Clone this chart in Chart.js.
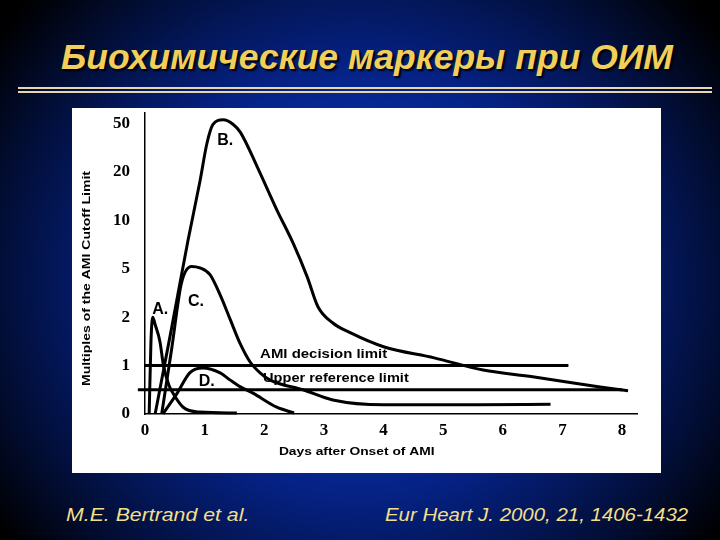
<!DOCTYPE html>
<html>
<head>
<meta charset="utf-8">
<script src="https://cdn.jsdelivr.net/npm/chart.js@4.4.1/dist/chart.umd.min.js"></script>
<style>
  html, body { margin: 0; padding: 0; }
  body {
    width: 720px; height: 540px; overflow: hidden; position: relative;
    background: radial-gradient(ellipse 62% 78% at 50% 52%, #0b36bc 0%, #0830a6 30%, #052182 52%, #02103f 78%, #000000 100%);
    font-family: "Liberation Sans", Arial, sans-serif;
  }
  #title {
    position: absolute; left: 0; width: 734px; top: 37px;
    text-align: center; font-size: 35.5px; font-weight: bold; font-style: italic;
    color: #f2cf5a; text-shadow: 2px 2px 2px #000;
  }
  .rule { position: absolute; left: 18px; width: 694px; height: 1.5px; background: #e8d6ae; }
  #panel { position: absolute; left: 72px; top: 108px; width: 589px; height: 365px; background: #fff; }
  .foot { position: absolute; top: 504px; font-size: 19px; font-style: italic; color: #f1df8c; transform-origin: left top; }
</style>
</head>
<body>
<div id="title">Биохимические маркеры при ОИМ</div>
<div class="rule" style="top:87px"></div>
<div class="rule" style="top:91px"></div>
<div id="panel"><canvas id="chart" width="589" height="365"></canvas></div>
<div class="foot" style="left:66px; transform: scaleX(1.12)">M.E. Bertrand et al.</div>
<div class="foot" style="left:385px; transform: scaleX(1.075)">Eur Heart J. 2000, 21, 1406-1432</div>

<script>
// tick labels
const xTicks = [0, 1, 2, 3, 4, 5, 6, 7, 8];
const yTicks = [0, 1, 2, 5, 10, 20, 50];

// curves: days after onset / multiples of cutoff
const aDays = [0.07, 0.10, 0.13, 0.17, 0.25, 0.31, 0.40, 0.47, 0.64, 0.92, 1.54];
const aVals = [0, 1.5, 2.0, 1.85, 1.5, 1.0, 0.6, 0.43, 0.14, 0.04, 0.02];

const bDays = [0.17, 0.45, 0.72, 0.92, 1.04, 1.14, 1.31, 1.48, 1.60, 1.88, 2.21, 2.48, 2.72, 2.90, 3.15, 3.44, 4.00, 4.85, 5.67, 6.50, 7.63, 8.10];
const bVals = [0, 1.8, 7.9, 18, 38, 49.5, 52.4, 49.5, 44.6, 23.4, 12.2, 7.7, 4.5, 2.65, 1.88, 1.68, 1.39, 1.16, 0.91, 0.77, 0.56, 0.48];

const cDays = [0.28, 0.45, 0.61, 0.78, 0.92, 1.09, 1.26, 1.43, 1.59, 1.76, 1.93, 2.10, 2.65, 3.15, 4.00, 5.57, 6.80];
const cVals = [0, 1.37, 4.1, 5.25, 5.1, 4.64, 3.38, 1.95, 1.47, 1.08, 0.85, 0.7, 0.5, 0.29, 0.19, 0.19, 0.2];

const dDays = [0.30, 0.54, 0.75, 0.97, 1.26, 1.43, 1.60, 1.81, 2.21, 2.50];
const dVals = [0, 0.43, 0.85, 0.95, 0.85, 0.7, 0.56, 0.43, 0.14, 0.02];

// reference limits
const decisionLimit = 1;
const decisionDays = [0, 7.1];
const upperRefLimit = 0.5;
const upperRefDays = [-0.12, 8.0];

// y axis: equal spacing between the tick values
const yTop = 6.22;
function toStep(v) {
  for (let i = 1; i < yTicks.length; i++) {
    if (v <= yTicks[i]) return i - 1 + (v - yTicks[i - 1]) / (yTicks[i] - yTicks[i - 1]);
  }
  const n = yTicks.length - 1;
  return n + (v - yTicks[n]) / (yTicks[n] - yTicks[n - 1]);
}
function fromStep(s) {
  const n = yTicks.length - 1;
  const i = Math.max(0, Math.min(n - 1, Math.floor(s)));
  return yTicks[i] + (s - i) * (yTicks[i + 1] - yTicks[i]);
}

class MarkerScale extends Chart.LinearScale {
  static id = 'marker';
  static defaults = {};
  determineDataLimits() { this.min = 0; this.max = fromStep(yTop); }
  buildTicks() { return yTicks.map(v => ({ value: v })); }
  getPixelForValue(v) { return this.getPixelForDecimal(toStep(v) / yTop); }
  getValueForPixel(p) { return fromStep(this.getDecimalForPixel(p) * yTop); }
}
Chart.register(MarkerScale);

const pts = (xs, ys) => xs.map((x, i) => ({ x: x, y: ys[i] }));
const curve = (xs, ys) => ({
  data: pts(xs, ys), borderColor: '#000', borderWidth: 3, pointRadius: 0,
  cubicInterpolationMode: 'monotone', clip: false
});
const flat = (xs, v) => ({
  data: xs.map(x => ({ x: x, y: v })), borderColor: '#000', borderWidth: 3,
  pointRadius: 0, clip: false
});

// text drawn on the plot, anchored in data units
const notes = [
  { text: 'A.', day: 0.12, val: 2.45, font: 'bold 16px "Liberation Sans"', sx: 1 },
  { text: 'B.', day: 1.21, val: 39.5, font: 'bold 16px "Liberation Sans"', sx: 1 },
  { text: 'C.', day: 0.72, val: 2.96, font: 'bold 16px "Liberation Sans"', sx: 1 },
  { text: 'D.', day: 0.90, val: 0.66, font: 'bold 16px "Liberation Sans"', sx: 1 },
  { text: 'AMI decision limit', day: 1.93, val: 1.24, font: 'bold 13px "Liberation Sans"', sx: 1.15 },
  { text: 'Upper reference limit', day: 1.98, val: 0.745, font: 'bold 13px "Liberation Sans"', sx: 1.12 }
];

function stretchText(ctx, text, x, y, font, sx, align) {
  ctx.save();
  ctx.font = font;
  ctx.textAlign = align;
  ctx.textBaseline = 'middle';
  ctx.fillStyle = '#000';
  ctx.translate(x, y);
  ctx.scale(sx, 1);
  ctx.fillText(text, 0, 0);
  ctx.restore();
}

const labelsPlugin = {
  id: 'labels',
  afterDatasetsDraw(chart) {
    const ctx = chart.ctx, xs = chart.scales.x, ys = chart.scales.y;
    notes.forEach(n => {
      stretchText(ctx, n.text, xs.getPixelForValue(n.day), ys.getPixelForValue(n.val), n.font, n.sx, 'left');
    });
    // axis titles
    stretchText(ctx, 'Days after Onset of AMI', xs.getPixelForValue(3.55), xs.bottom - 21,
      'bold 11.5px "Liberation Sans"', 1.2, 'center');
    ctx.save();
    ctx.translate(15, ys.getPixelForValue(fromStep(2.8)));
    ctx.rotate(-Math.PI / 2);
    stretchText(ctx, 'Multiples of the AMI Cutoff Limit', 0, 0, 'bold 11.5px "Liberation Sans"', 1.22, 'center');
    ctx.restore();
  }
};

new Chart(document.getElementById('chart'), {
  type: 'line',
  data: {
    datasets: [
      curve(aDays, aVals),
      curve(bDays, bVals),
      curve(cDays, cVals),
      curve(dDays, dVals),
      flat(decisionDays, decisionLimit),
      flat(upperRefDays, upperRefLimit)
    ]
  },
  options: {
    responsive: false,
    animation: false,
    layout: { padding: { left: 0, right: 24, top: 5, bottom: 0 } },
    plugins: { legend: { display: false }, tooltip: { enabled: false } },
    scales: {
      x: {
        type: 'linear', min: 0, max: 8.25,
        afterBuildTicks: s => { s.ticks = xTicks.map(v => ({ value: v })); },
        afterFit: s => { s.height = 59; s.paddingLeft = 0; s.paddingRight = 0; },
        grid: { display: false, drawTicks: false },
        border: { display: true, color: '#000', width: 1.5 },
        ticks: {
          padding: 6, color: '#000', maxRotation: 0, autoSkip: false,
          font: { family: '"Liberation Serif"', size: 17, weight: 'bold' },
          callback: (v, i) => String(xTicks[i])
        }
      },
      y: {
        type: 'marker',
        afterFit: s => { s.width = 73; s.paddingTop = 0; s.paddingBottom = 0; },
        grid: { display: false, drawTicks: false },
        border: { display: true, color: '#000', width: 1.5 },
        ticks: {
          padding: 15, color: '#000', autoSkip: false,
          font: { family: '"Liberation Serif"', size: 17, weight: 'bold' },
          callback: (v, i) => String(yTicks[i])
        }
      }
    }
  },
  plugins: [labelsPlugin]
});
</script>
</body>
</html>
